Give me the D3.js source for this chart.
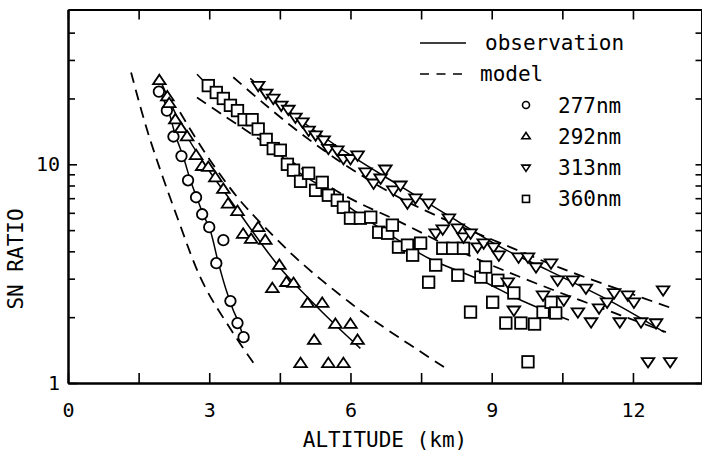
<!DOCTYPE html>
<html><head><meta charset="utf-8">
<script src="https://cdn.jsdelivr.net/npm/d3@7"></script>
<style>
html,body{margin:0;padding:0;background:#fff;}
svg{display:block;}
text{font-family:"DejaVu Sans Mono","Liberation Mono",monospace;fill:#000;}
</style></head>
<body>
<svg id="chart" width="702" height="454"></svg>
<script>
// ---------- data (altitude km, SN ratio) ----------
const obs277 = [[1.92,22.0],[2.13,17.6],[2.28,13.6],[2.45,10.8],[2.60,8.45],[2.74,7.0],[2.87,5.91],[3.02,5.0],[3.19,3.57],[3.36,2.66],[3.51,2.15],[3.62,1.90],[3.74,1.57]];
const model277 = [[1.34,26.3],[1.70,13.9],[2.32,5.73],[2.87,2.86],[3.51,1.69],[3.98,1.20]];
const pts277 = [[1.93,21.5],[2.10,17.6],[2.24,13.4],[2.41,10.9],[2.55,8.45],[2.72,7.07],[2.85,5.91],[3.00,5.16],[3.30,4.50],[3.15,3.53],[3.45,2.37],[3.60,1.88],[3.73,1.62]];

const obs292 = [[1.94,24.7],[2.53,13.4],[3.02,9.2],[3.45,6.85],[3.87,5.10],[4.51,3.35],[5.15,2.39],[5.68,1.84],[6.21,1.44]];
const model292 = [[2.38,17.3],[2.91,11.3],[3.59,7.1],[4.15,5.24],[4.94,3.57],[6.00,2.32],[6.64,1.84],[8.02,1.17]];
const pts292 = [[1.94,24.2],[2.11,20.4],[2.15,19.0],[2.28,16.0],[2.40,14.6],[2.53,13.4],[2.72,11.0],[2.85,9.8],[2.98,9.7],[3.13,8.7],[3.30,7.7],[3.40,6.6],[3.60,6.1],[3.72,4.8],[3.89,4.55],[4.04,5.15],[4.19,4.5],[4.49,3.46],[4.34,2.71],[4.64,2.89],[4.79,2.86],[5.09,2.32],[5.40,2.32],[5.68,1.86],[6.00,1.86],[5.23,1.57],[6.15,1.57],[4.94,1.23],[5.53,1.23],[5.85,1.23]];

const obs313 = [[3.87,24.7],[4.94,15.9],[6.00,11.0],[7.06,7.94],[8.13,5.73],[9.19,4.18],[10.19,3.28],[11.60,2.32],[12.66,1.71]];
const model313 = [[3.51,25.0],[4.13,19.2],[4.77,14.8],[5.43,11.6],[6.06,9.39],[7.06,7.0],[8.13,5.44],[9.19,4.36],[10.47,3.35],[11.74,2.66],[12.77,2.22]];
const pts313 = [[4.04,22.9],[4.21,21.1],[4.36,20.0],[4.53,18.6],[4.68,17.8],[4.83,16.4],[4.98,15.6],[5.11,14.3],[5.26,13.6],[5.43,12.9],[5.53,11.8],[5.72,11.6],[5.85,10.6],[6.00,10.6],[6.15,11.0],[6.32,9.2],[6.49,8.19],[6.64,8.63],[6.74,9.49],[6.91,7.61],[7.06,8.02],[7.21,6.64],[7.38,7.0],[7.66,6.64],[7.81,4.84],[7.96,5.05],[8.09,5.67],[8.28,5.10],[8.40,4.64],[8.55,4.84],[8.70,4.18],[8.83,4.36],[9.04,4.18],[9.15,3.84],[9.34,2.89],[9.47,2.15],[9.57,3.76],[9.77,3.76],[9.94,3.39],[10.09,2.52],[10.26,3.53],[10.40,2.95],[10.53,2.39],[10.72,2.95],[10.83,2.11],[11.00,2.71],[11.11,1.90],[11.28,2.20],[11.45,2.34],[11.60,2.58],[11.72,1.90],[11.89,2.52],[12.02,2.34],[12.17,1.90],[12.49,1.88],[12.64,2.66],[12.32,1.25],[12.79,1.25]];

const obs360 = [[2.74,25.8],[2.98,22.9],[3.60,17.5],[4.21,13.1],[4.79,9.59],[5.40,7.85],[6.00,6.30],[6.79,4.84],[7.66,3.72],[8.77,2.95],[9.62,2.39],[10.64,1.94]];
const model360 = [[2.74,20.2],[4.09,12.9],[5.79,7.37],[7.06,5.44],[8.13,4.18],[9.19,3.32],[10.47,2.58],[11.74,2.04],[12.70,1.71]];
const pts360 = [[2.98,22.9],[3.15,21.3],[3.30,20.0],[3.45,18.6],[3.60,17.6],[3.74,16.0],[3.91,16.0],[4.04,14.5],[4.21,13.0],[4.36,11.8],[4.51,11.6],[4.66,10.0],[4.79,9.4],[4.94,8.36],[5.11,9.1],[5.26,7.6],[5.40,8.27],[5.53,7.22],[5.72,6.85],[5.85,6.36],[6.00,5.67],[6.21,5.67],[6.43,5.73],[6.60,4.89],[6.79,4.84],[6.89,5.27],[7.02,4.18],[7.21,4.27],[7.32,3.84],[7.49,4.36],[7.66,2.89],[7.81,3.46],[7.96,4.13],[8.17,4.13],[8.28,3.11],[8.40,4.13],[8.55,2.11],[8.77,3.05],[8.87,3.39],[9.02,2.34],[9.13,2.95],[9.47,2.58],[9.30,1.88],[9.62,1.88],[9.91,1.86],[10.09,2.11],[10.26,2.34],[10.36,2.09],[9.77,1.25]];

const xMajorTicks = [0,3,6,9,12];
const xMinorTicks = [1.5,4.5,7.5,10.5];
const yMajorTicks = [1,10];
const yMinorTicks = [2,3,4,5,6,7,8,9,20,30,40];
const legendSymbols = ["circle","up","down","square"];
const legendLabels = ["277nm","292nm","313nm","360nm"];

// ---------- layout ----------
const svg = d3.select("#chart");
const L = 68, R = 702, T = 9.5, B = 383;
const x = d3.scaleLinear().domain([0, (R-L)/47.08]).range([L, R]);
const y = d3.scaleLog().domain([1, Math.pow(10,(B-T)/218.7)]).range([B, T]);

// ---------- axes ----------
const bottom = svg.append("g").attr("transform",`translate(0,${B})`)
  .call(d3.axisBottom(x).tickValues(xMajorTicks).tickSizeInner(-10).tickSizeOuter(0).tickPadding(20).tickFormat(d3.format("d")));
svg.append("g").attr("transform",`translate(0,${B})`)
  .call(d3.axisBottom(x).tickValues(xMinorTicks).tickSizeInner(-10).tickSizeOuter(0).tickFormat(""));
svg.append("g").attr("transform",`translate(0,${T})`)
  .call(d3.axisTop(x).tickValues(xMajorTicks.concat(xMinorTicks)).tickSizeInner(-10).tickSizeOuter(0).tickFormat(""));
svg.append("g").attr("transform",`translate(${L},0)`)
  .call(d3.axisLeft(y).tickValues(yMajorTicks).tickSizeInner(-9).tickSizeOuter(0).tickPadding(8).tickFormat(d3.format("d")));
svg.append("g").attr("transform",`translate(${L},0)`)
  .call(d3.axisLeft(y).tickValues(yMinorTicks).tickSizeInner(-7).tickSizeOuter(0).tickFormat(""));
svg.append("g").attr("transform",`translate(${R-0.5},0)`)
  .call(d3.axisRight(y).tickValues(yMajorTicks.concat(yMinorTicks)).tickSizeInner(-6).tickSizeOuter(0).tickFormat(""));

svg.selectAll(".domain").attr("stroke","#000").attr("stroke-width",2);
svg.selectAll(".tick line").attr("stroke","#000").attr("stroke-width",1.6);
svg.selectAll(".tick text").attr("font-size",20).attr("font-family","DejaVu Sans Mono");
bottom.selectAll(".tick text").attr("dy","0.71em");

// axis titles
svg.append("text").attr("x",385).attr("y",447).attr("text-anchor","middle")
  .attr("font-size",21).text("ALTITUDE (km)");
svg.append("text").attr("transform","translate(23,259) rotate(-90)").attr("text-anchor","middle")
  .attr("font-size",21).text("SN RATIO");

// ---------- curves ----------
const line = d3.line().x(d=>x(d[0])).y(d=>y(d[1])).curve(d3.curveCatmullRom.alpha(0.5));
const plot = svg.append("g");
const solidSets = [obs277, obs292, obs313, obs360];
const dashSets = [model277, model292, model313, model360];
plot.selectAll("path.obs").data(solidSets).join("path").attr("class","obs")
  .attr("d", line).attr("fill","none").attr("stroke","#000").attr("stroke-width",1.5);
plot.selectAll("path.mod").data(dashSets).join("path").attr("class","mod")
  .attr("d", line).attr("fill","none").attr("stroke","#000").attr("stroke-width",1.8).attr("stroke-dasharray","11,7");

// ---------- markers ----------
function drawMarker(g, kind, cx, cy, s){
  if(kind==="circle"){
    g.append("circle").attr("cx",cx).attr("cy",cy).attr("r",s*0.5);
  } else if(kind==="square"){
    g.append("rect").attr("x",cx-s/2).attr("y",cy-s/2).attr("width",s).attr("height",s);
  } else if(kind==="up"){
    const h=s*0.9, w=s*0.6;
    g.append("path").attr("d",`M${cx},${cy-h*0.6}L${cx+w},${cy+h*0.4}L${cx-w},${cy+h*0.4}Z`);
  } else {
    const h=s*0.9, w=s*0.6;
    g.append("path").attr("d",`M${cx},${cy+h*0.6}L${cx+w},${cy-h*0.4}L${cx-w},${cy-h*0.4}Z`);
  }
}
const mk = svg.append("g").attr("fill","#fff").attr("stroke","#000").attr("stroke-width",1.8);
const series = [[pts277,"circle"],[pts292,"up"],[pts360,"square"],[pts313,"down"]];
series.forEach(([pts,kind])=>{
  pts.forEach(p=>drawMarker(mk, kind, x(p[0]), y(p[1]), kind==="square"?11.5:10.5));
});

// ---------- legend ----------
const lg = svg.append("g");
lg.append("line").attr("x1",420).attr("x2",466).attr("y1",43).attr("y2",43).attr("stroke","#000").attr("stroke-width",1.6);
lg.append("text").attr("x",485).attr("y",50).attr("font-size",21).text("observation");
lg.append("line").attr("x1",420).attr("x2",466).attr("y1",74).attr("y2",74).attr("stroke","#000").attr("stroke-width",1.6).attr("stroke-dasharray","9,7.5");
lg.append("text").attr("x",480).attr("y",81).attr("font-size",21).text("model");
const lgm = lg.append("g").attr("fill","#fff").attr("stroke","#000").attr("stroke-width",1.6);
legendSymbols.forEach((k,i)=>{
  const cy = 105 + i*31.3;
  drawMarker(lgm, k, 526, cy, 7);
  lg.append("text").attr("x",558).attr("y",cy+7.5).attr("font-size",21).text(legendLabels[i]);
});
</script>
</body></html>
